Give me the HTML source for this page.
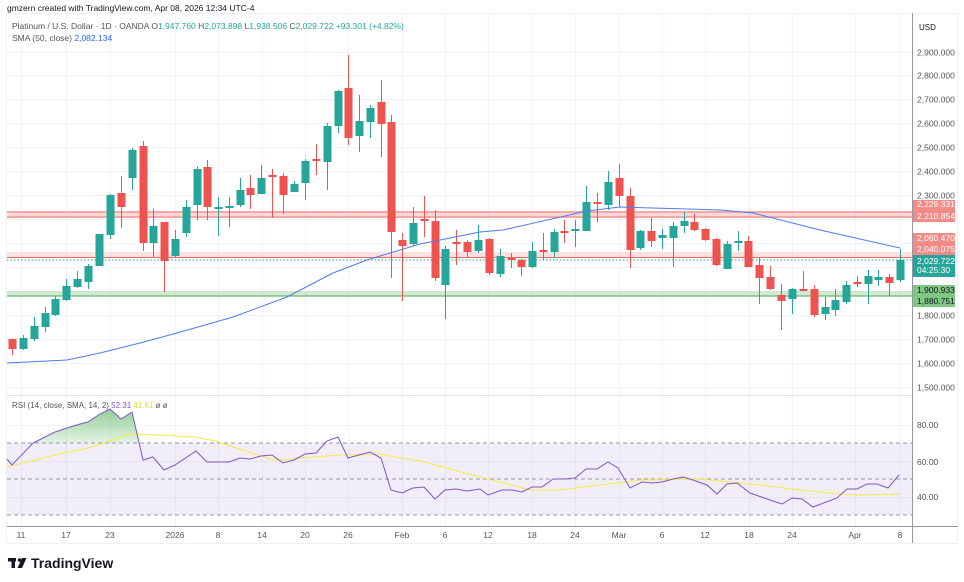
<!DOCTYPE html>
<html><head><meta charset="utf-8"><style>
html,body{margin:0;padding:0;background:#fff;width:964px;height:582px;overflow:hidden}
svg{display:block;font-family:"Liberation Sans",sans-serif}
</style></head><body>
<svg id="s" width="964" height="582" viewBox="0 0 964 582" xmlns="http://www.w3.org/2000/svg">
<defs>
<linearGradient id="gf" x1="0" y1="0" x2="0" y2="1"><stop offset="0" stop-color="#4caf50" stop-opacity="0.6"/><stop offset="1" stop-color="#4caf50" stop-opacity="0.02"/></linearGradient>
<clipPath id="up"><rect x="7" y="395" width="905" height="48"/></clipPath>
</defs>
<rect x="6.5" y="13.5" width="951" height="530" fill="none" stroke="#eef0f4"/>
<g id="grid" stroke="#f0f3fa" stroke-width="1"></g>
<!-- bands -->
<rect x="7" y="211" width="905" height="7" fill="#f7a9a7" opacity="0.45"/>
<line x1="7" y1="212" x2="912" y2="212" stroke="#f28b88" stroke-width="1.3"/>
<line x1="7" y1="217" x2="912" y2="217" stroke="#f28b88" stroke-width="1.3"/>
<rect x="7" y="252" width="905" height="5" fill="#f7a9a7" opacity="0.35"/>
<line x1="7" y1="257.5" x2="912" y2="257.5" stroke="#ef6b68" stroke-width="1"/>
<rect x="7" y="291" width="905" height="5" fill="#a5d6a7" opacity="0.5"/>
<line x1="7" y1="296" x2="912" y2="296" stroke="#66bb6a" stroke-width="1.3"/>
<line x1="7" y1="260" x2="912" y2="260" stroke="#26a69a" stroke-width="1" stroke-dasharray="1.5,2"/>
<g id="candles"></g>
<polyline fill="none" stroke="#4f7bf0" stroke-width="1" points="7,363 67,360 100,353 140,343 177,333 233,317 287,297 333,273 367,260 400,250 420,244 480,232 503,230 587,211 620,207 687,209 720,210 753,213 820,230 900,248"/>
<!-- RSI -->
<line x1="7" y1="395.5" x2="912" y2="395.5" stroke="#e0e3eb"/>
<rect x="7" y="443" width="905" height="72" fill="#7e57c2" opacity="0.1"/>
<g stroke="#9598a1" stroke-dasharray="4,3" stroke-width="1"><line x1="7" y1="443" x2="912" y2="443"/><line x1="7" y1="479" x2="912" y2="479"/><line x1="7" y1="515" x2="912" y2="515"/></g>
<polygon clip-path="url(#up)" fill="url(#gf)" points="7,443 33,443 55,432 67,428 80,424 88,422 100,414 110,409 121,419 132,412 143,453 136,443"/>
<polyline fill="none" stroke="#f5e94a" stroke-width="1" points="7,467 55,455 88,448 110,441 130,434 160,435 195,437 215,441 240,449 270,459 285,460 300,458 340,455 378,454 420,461 480,477 530,490 560,490 600,485 640,480 700,479 760,485 800,490 840,494 860,495 900,494"/>
<polyline fill="none" stroke="#7e57c2" stroke-width="1" points="7,459 12,465 33,443 55,432 67,428 80,424 88,422 100,414 110,409 121,419 132,412 143,460 153,457 164,470 175,465 196,451 207,462 229,462 240,458 250,459 261,456 272,455 283,463 294,460 305,454 316,453 327,441 338,437 348,458 359,455 370,452 381,458 391,490 402,493 413,488 424,487 435,499 445,490 456,489 467,491 480,489 488,495 502,490 512,490 522,492 532,487 542,487 553,479 565,479 575,478 586,469 597,469 608,462 618,468 630,488 642,482 652,483 662,482 673,479 683,477 693,480 707,485 717,494 727,484 737,483 750,493 770,500 782,504 792,498 802,499 813,507 837,498 847,489 857,489 867,484 877,484 888,488 899,475"/>
<!-- axes -->
<line x1="912.5" y1="13" x2="912.5" y2="543" stroke="#9598a1"/>
<line x1="7" y1="526.5" x2="958" y2="526.5" stroke="#9598a1"/>
<g id="ax" font-size="8.5" fill="#555"></g>
<text x="919" y="30" font-size="8" fill="#131722">USD</text>
<rect x="913" y="200" width="42" height="22" fill="#f28b88"/>
<rect x="913" y="233" width="42" height="22" fill="#f28b88"/>
<rect x="913" y="255" width="42" height="22" fill="#26a69a"/>
<rect x="913" y="285" width="42" height="22" fill="#81c784"/>
<g font-size="8.5" fill="#fff">
<text x="917" y="207">2,229.331</text><text x="917" y="219">2,210.854</text>
<text x="917" y="241">2,060.470</text><text x="917" y="252">2,040.075</text>
<text x="917" y="264">2,029.722</text><text x="917" y="273">04:25:30</text>
</g>
<g font-size="8.5" fill="#131722"><text x="917" y="293">1,900.933</text><text x="917" y="304">1,880.751</text></g>
<g font-size="8.5" fill="#555"><text x="917" y="428">80.00</text><text x="917" y="465">60.00</text><text x="917" y="500">40.00</text></g>
<g id="dates" font-size="8.5" fill="#555" text-anchor="middle"></g>
<!-- header -->
<text x="7" y="11" font-size="8.5" fill="#131722">gmzern created with TradingView.com, Apr 08, 2026 12:34 UTC-4</text>
<text x="12" y="29" font-size="8.5" fill="#555">Platinum / U.S. Dollar · 1D · OANDA <tspan fill="#555">O</tspan><tspan fill="#26a69a">1,947.760</tspan> <tspan fill="#555">H</tspan><tspan fill="#26a69a">2,073.898</tspan> <tspan fill="#555">L</tspan><tspan fill="#26a69a">1,938.506</tspan> <tspan fill="#555">C</tspan><tspan fill="#26a69a">2,029.722 +93.301 (+4.82%)</tspan></text>
<text x="12" y="41" font-size="8.5" fill="#555">SMA (50, close) <tspan fill="#2962ff">2,082.134</tspan></text>
<text x="12" y="408" font-size="8" fill="#555">RSI (14, close, SMA, 14, 2) <tspan fill="#7e57c2">52.31</tspan> <tspan fill="#e8d630">41.61</tspan> ø ø</text>
<!-- logo -->
<text x="8" y="568" font-size="15" font-weight="bold" fill="#131722">𝟏𝟕</text>
<rect x="8" y="558" width="8" height="3.5" fill="#131722"/><rect x="11.5" y="558" width="3.5" height="10" fill="#131722"/><circle cx="19.5" cy="560" r="1.8" fill="#131722"/><polygon points="22,558 26,558 22,568 18,568" fill="#131722"/>
<rect x="7" y="555" width="22" height="15" fill="#fff"/>
<rect x="8" y="558" width="8" height="3.5" fill="#131722"/><rect x="11.5" y="558" width="3.5" height="10" fill="#131722"/><circle cx="19.5" cy="560" r="1.8" fill="#131722"/><polygon points="22,558 26.5,558 22,568 17.5,568" fill="#131722"/>
<text x="31" y="568" font-size="14" font-weight="bold" fill="#131722">TradingView</text>
</svg>
<script>
var NS="http://www.w3.org/2000/svg";
function el(p,t,a,txt){var e=document.createElementNS(NS,t);for(var k in a)e.setAttribute(k,a[k]);if(txt)e.textContent=txt;p.appendChild(e);return e;}
var G="#26a69a",R="#ef5350";
var grid=document.getElementById("grid"),ax=document.getElementById("ax"),dates=document.getElementById("dates");
function yp(p){return 51.5+(2900-p)*0.2393;}
var hide={2200:1,2100:1,2000:1,1900:1};
for(var p=2900;p>=1500;p-=100){var y=Math.round(yp(p))+0.5;el(grid,"line",{x1:7,y1:y,x2:912,y2:y});
 if(!hide[p])el(ax,"text",{x:917,y:y+3},(p/1000|0)+","+String(p%1000).padStart(3,"0")+".000");}
[425,461,497].forEach(function(y){el(grid,"line",{x1:7,y1:y+.5,x2:912,y2:y+.5});});
var D=[[21,"11"],[66,"17"],[110,"23"],[175,"2026"],[218,"8"],[262,"14"],[305,"20"],[348,"26"],[402,"Feb"],[445,"6"],[488,"12"],[532,"18"],[575,"24"],[619,"Mar"],[662,"6"],[705,"12"],[749,"18"],[792,"24"],[855,"Apr"],[900,"8"]];
D.forEach(function(d){el(grid,"line",{x1:d[0]+.5,y1:13,x2:d[0]+.5,y2:526});el(dates,"text",{x:d[0],y:538},d[1]);});
var C=[[12,339,349,339,355,R],[23,338,349,335,350,G],[34,326,339,317,341,G],[45,313,327,307,332,G],[55,299,315,296,316,G],[66,286,300,279,301,G],[77,279,287,271,288,G],[88,266,282,264,289,G],[99,234,266,234,266,G],[110,195,235,194,239,G],[121,193,207,176,228,R],[132,150,178,148,190,G],[143,146,243,141,251,R],[153,226,243,209,257,G],[164,222,261,222,292,R],[175,239,256,230,257,G],[186,207,233,200,237,G],[197,169,205,166,220,G],[207,167,207,160,220,R],[218,207,209,197,236,G],[229,206,208,197,227,G],[240,190,205,178,207,G],[250,188,195,175,209,R],[261,178,194,165,194,G],[272,175,177,169,218,R],[283,176,195,173,214,R],[294,184,192,181,192,G],[305,161,183,159,200,G],[316,159,161,144,175,R],[327,126,162,123,190,G],[338,91,126,90,133,G],[348,88,138,55,145,R],[359,121,136,95,152,G],[370,108,122,105,138,G],[381,102,124,80,157,R],[391,122,232,115,278,R],[402,240,246,233,301,R],[413,223,244,207,246,G],[424,219,221,196,237,R],[435,221,278,210,281,R],[445,249,285,246,319,G],[456,242,244,230,265,R],[467,242,252,240,257,R],[478,240,251,225,253,G],[489,239,273,238,275,R],[500,256,274,249,277,G],[511,258,260,253,268,R],[521,260,267,259,276,R],[532,251,267,242,268,G],[543,250,252,233,260,R],[554,232,252,229,258,G],[564,231,233,220,243,R],[575,229,231,220,247,G],[586,202,231,186,231,G],[597,202,204,193,222,R],[608,182,205,171,210,G],[619,178,196,164,207,R],[630,196,250,188,268,R],[640,231,248,230,250,G],[651,231,241,218,247,R],[662,235,238,229,249,G],[673,226,238,222,267,G],[684,221,226,212,233,G],[694,222,230,214,231,R],[705,229,240,228,241,R],[716,239,265,238,266,R],[727,244,269,241,269,G],[738,241,243,231,251,G],[748,241,267,236,267,R],[759,265,278,258,304,R],[770,277,289,266,290,R],[781,295,301,284,330,R],[792,289,299,288,314,G],[803,289,291,271,291,R],[814,289,315,285,317,R],[825,307,314,297,320,G],[835,300,310,289,316,G],[846,285,302,281,304,G],[857,282,284,276,287,R],[868,276,284,270,304,G],[878,277,280,270,286,G],[889,277,283,274,296,R],[900,260,280,249,282,G]];
var cg=document.getElementById("candles");
C.forEach(function(c){el(cg,"line",{x1:c[0]+.5,y1:c[3],x2:c[0]+.5,y2:c[4],stroke:c[5],"stroke-width":1});
 el(cg,"rect",{x:c[0]-3.5,y:c[1],width:8,height:Math.max(1.5,c[2]-c[1]),fill:c[5]});});
</script>
</body></html>
